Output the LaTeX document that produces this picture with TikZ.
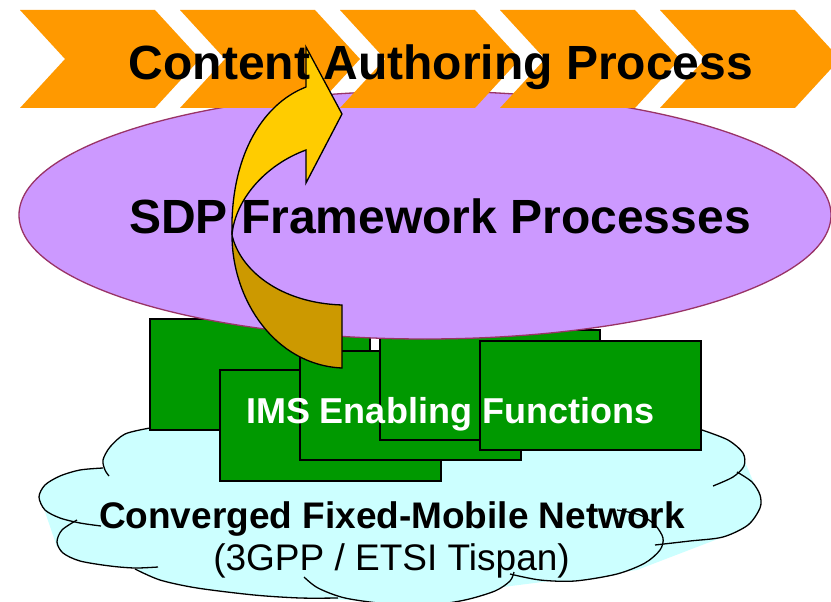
\documentclass[tikz,border=0pt]{standalone}
\usepackage{fontspec}
\setmainfont{Liberation Sans}
\definecolor{corange}{HTML}{FF9900}
\definecolor{cpurple}{HTML}{CC99FF}
\definecolor{cpurpleline}{HTML}{993366}
\definecolor{cgreen}{HTML}{009900}
\definecolor{ccloud}{HTML}{CCFFFF}
\definecolor{cyellow}{HTML}{FFCC00}
\definecolor{cdark}{HTML}{CC9900}
\begin{document}
\begin{tikzpicture}[x=1pt,y=-1pt,
  chev/.style={fill=corange},
  gbox/.style={fill=cgreen,draw=black,line width=1.5pt},
  cloudfill/.style={fill=ccloud},
  cloudline/.style={draw=black,line width=1.3pt},
  arrowpart/.style={draw=black,line width=1.3pt,line join=miter},
  bigtext/.style={font=\fontsize{48}{50}\selectfont\bfseries,anchor=base,inner sep=0pt},
  midtext/.style={font=\fontsize{37}{40}\selectfont\bfseries,anchor=base,inner sep=0pt}]
\clip (0,0) rectangle (831,602);
\fill[white] (0,0) rectangle (831,602);

% cloud
\coordinate (cc) at (420,525);
\fill[cloudfill] (150,428) -- (108,475) -- (40,497) -- (57,547) -- (157,567) -- (254,595)
  -- (388,602) -- (503,587) -- (637,570) -- (723,537) -- (761,500) -- (745,462) -- (702,430) -- cycle;
\fill[cloudfill] plot[smooth] coordinates {(150,428) (125,434) (110,447) (103,460) (105,470) (109,476)} -- (cc) -- cycle;
\fill[cloudfill] plot[smooth] coordinates {(103,468) (80,470) (60,476) (45,485) (39,497) (45,510) (60,518) (80,523) (101,526)} -- (cc) -- cycle;
\fill[cloudfill] plot[smooth] coordinates {(77,520) (62,530) (57,542) (63,553) (80,561) (110,566) (135,568) (158,567)} -- (cc) -- cycle;
\fill[cloudfill] plot[smooth] coordinates {(135,569) (160,580) (197,588) (254,595) (300,598) (338,598)} -- (cc) -- cycle;
\fill[cloudfill] plot[smooth] coordinates {(304,577) (318,588) (345,598) (388,604) (430,605) (465,600) (495,591) (510,581) (514,572)} -- (cc) -- cycle;
\fill[cloudfill] plot[smooth] coordinates {(510,574) (540,580) (575,581) (617,574) (645,563) (660,550) (663,538) (655,525) (640,515) (617,510)} -- (cc) -- cycle;
\fill[cloudfill] plot[smooth] coordinates {(655,545) (690,541) (723,537) (748,525) (760,508) (760,495) (752,482) (737,472)} -- (cc) -- cycle;
\fill[cloudfill] plot[smooth] coordinates {(702,430) (728,440) (743,453) (744,466) (733,477) (713,486)} -- (cc) -- cycle;

\draw[cloudline] plot[smooth] coordinates {(150,428) (125,434) (110,447) (103,460) (105,470) (109,476)};
\draw[cloudline] plot[smooth] coordinates {(103,468) (80,470) (60,476) (45,485) (39,497) (45,510) (60,518) (80,523) (101,526)};
\draw[cloudline] plot[smooth] coordinates {(77,520) (62,530) (57,542) (63,553) (80,561) (110,566) (135,568) (158,567)};
\draw[cloudline] plot[smooth] coordinates {(135,569) (160,580) (197,588) (254,595) (300,598) (338,598)};
\draw[cloudline] plot[smooth] coordinates {(304,577) (318,588) (345,598) (388,604) (430,605) (465,600) (495,591) (510,581) (514,572)};
\draw[cloudline] plot[smooth] coordinates {(510,574) (540,580) (575,581) (617,574) (645,563) (660,550) (663,538) (655,525) (640,515) (617,510)};
\draw[cloudline] plot[smooth] coordinates {(655,545) (690,541) (723,537) (748,525) (760,508) (760,495) (752,482) (737,472)};
\draw[cloudline] plot[smooth] coordinates {(702,430) (728,440) (743,453) (744,466) (733,477) (713,486)};

% green boxes
\draw[gbox] (150,319) rectangle (370,430);
\draw[gbox] (220,370) rectangle (441,481);
\draw[gbox] (300,351) rectangle (521,460);
\draw[gbox] (380,330) rectangle (600,440);
\draw[gbox] (480,341) rectangle (701,450);

% ellipse
\draw[fill=cpurple,draw=cpurpleline,line width=1.3pt] (425,215) ellipse [x radius=406, y radius=124];

% chevrons
\foreach \xo in {20,180,340,500,660}{
  \fill[chev] (\xo,10) -- ++(135,0) -- ++(45,49) -- ++(-45,49) -- ++(-135,0) -- ++(45,-49) -- cycle;
}

% curved arrow
\draw[arrowpart,fill=cyellow] (306,47) -- (342,114) -- (306,183) -- (306,150)
  .. controls (265,165) and (235,200) .. (232,235)
  .. controls (230,160) and (260,105) .. (306,87) -- cycle;
\draw[arrowpart,fill=cdark] (232,235) .. controls (232,300) and (275,365) .. (342,368)
  -- (342,305) .. controls (280,303) and (240,270) .. (232,235) -- cycle;

% texts
\node[bigtext] (cap) at (441,80) {Content Authoring Process};
\node[bigtext] (sdp) at (440,233) {SDP Framework Processes};
\node[font=\fontsize{36}{40}\selectfont\bfseries,anchor=base,inner sep=0pt,text=white] (ims) at (450,423) {IMS Enabling Functions};
\node[midtext] (net) at (392,528) {Converged Fixed-Mobile Network};
\node[font=\fontsize{37}{40}\selectfont,anchor=base,inner sep=0pt] (std) at (391.5,570) {(3GPP / ETSI Tispan)};
\end{tikzpicture}
\end{document}
